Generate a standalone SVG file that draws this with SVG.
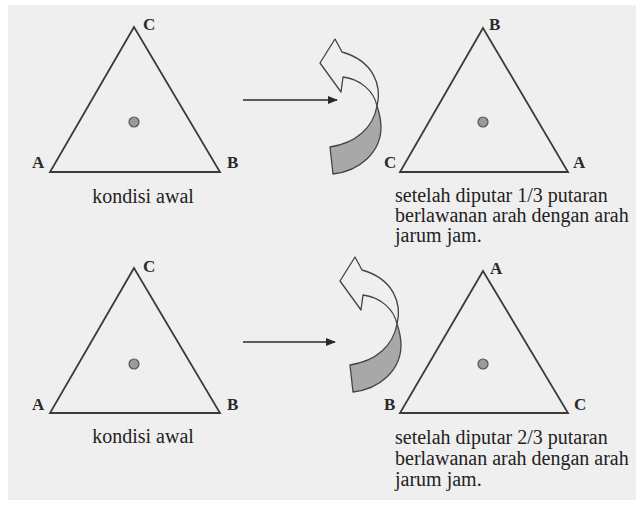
<svg xmlns="http://www.w3.org/2000/svg" xmlns:xlink="http://www.w3.org/1999/xlink" width="640" height="510" viewBox="0 0 640 510">
<style>
.tri{fill:none;stroke:#3a3a3a;stroke-width:1.8;stroke-linejoin:miter}
.dot{fill:#9a9a9a;stroke:#555;stroke-width:1.2}
.lbl{font-family:"Liberation Serif","Times New Roman",serif;font-size:17px;font-weight:bold;fill:#2a2a2a}
.cap{font-family:"Liberation Serif","Times New Roman",serif;font-size:20px;fill:#222}
.conn{stroke:#2a2a2a;stroke-width:1.5;fill:none}
.curlw{fill:#efefef;stroke:#444;stroke-width:1.3;stroke-linejoin:round}
.curlg{fill:#a8a8a8;stroke:#444;stroke-width:1.3;stroke-linejoin:round}
</style>
<defs>
<marker id="ah" markerWidth="10" markerHeight="8" refX="9" refY="4" orient="auto" markerUnits="userSpaceOnUse">
<path d="M0,0 L10,4 L0,8 Z" fill="#2a2a2a"/>
</marker>
<g id="curl">
<path class="curlg" d="M377,106 C373,128 356,143 330,147 L333,174 C360,171 381,152 381,127 C381,119 379,112 377,106 Z"/>
<path class="curlw" d="M335,39 L320,63 L341,92 L343,77 C360,79 374,91 377,106 C382,86 374,61 342,52 Z"/>
</g>
</defs>
<rect x="0" y="0" width="640" height="510" fill="#ffffff"/>
<rect x="8" y="5" width="628" height="495" fill="#efefef"/>

<g id="connectors">
<line class="conn" x1="243" y1="100" x2="337" y2="100" marker-end="url(#ah)"/>
<line class="conn" x1="243" y1="342" x2="335" y2="342" marker-end="url(#ah)"/>
<use xlink:href="#curl"/>
<use xlink:href="#curl" transform="translate(20,218)"/>
</g>

<g id="tri1">
<polygon class="tri" points="134,27 50,172 220,172"/>
<circle class="dot" cx="134" cy="122" r="5"/>
<text class="lbl" x="143" y="30">C</text>
<text class="lbl" x="32" y="168">A</text>
<text class="lbl" x="227" y="168">B</text>
<text class="cap" x="143" y="203" text-anchor="middle">kondisi awal</text>
</g>

<g id="tri2">
<polygon class="tri" points="483,28 400,172 568,172"/>
<circle class="dot" cx="483" cy="122" r="5"/>
<text class="lbl" x="489" y="30">B</text>
<text class="lbl" x="384" y="168">C</text>
<text class="lbl" x="573" y="168">A</text>
<text class="cap" x="395" y="202">setelah diputar 1/3 putaran</text>
<text class="cap" x="395" y="222">berlawanan arah dengan arah</text>
<text class="cap" x="395" y="242">jarum jam.</text>
</g>

<g id="tri3">
<polygon class="tri" points="134,268 50,413 220,413"/>
<circle class="dot" cx="134" cy="364" r="5"/>
<text class="lbl" x="143" y="272">C</text>
<text class="lbl" x="32" y="410">A</text>
<text class="lbl" x="227" y="410">B</text>
<text class="cap" x="143" y="443" text-anchor="middle">kondisi awal</text>
</g>

<g id="tri4">
<polygon class="tri" points="483,271 400,413 568,413"/>
<circle class="dot" cx="483" cy="364" r="5"/>
<text class="lbl" x="490" y="274">A</text>
<text class="lbl" x="384" y="410">B</text>
<text class="lbl" x="574" y="410">C</text>
<text class="cap" x="395" y="444">setelah diputar 2/3 putaran</text>
<text class="cap" x="395" y="465">berlawanan arah dengan arah</text>
<text class="cap" x="395" y="486">jarum jam.</text>
</g>
</svg>
